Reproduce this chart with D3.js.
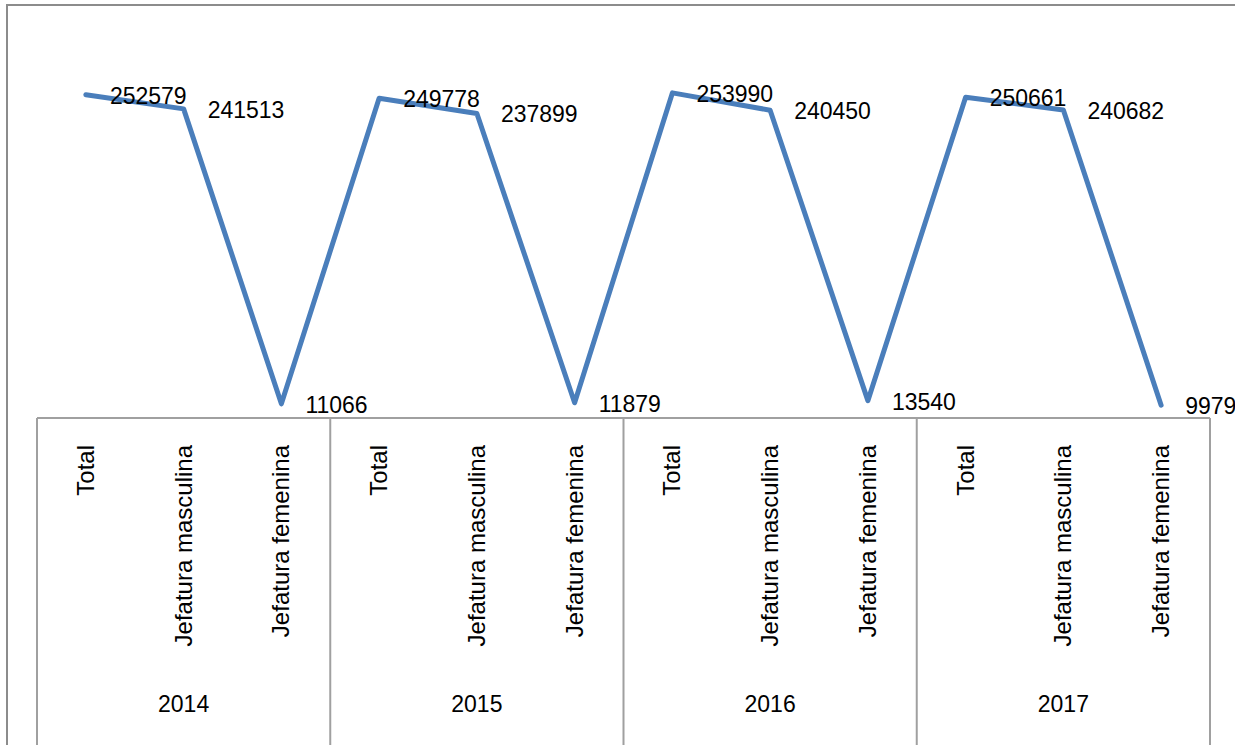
<!DOCTYPE html>
<html>
<head>
<meta charset="utf-8">
<script src="https://cdn.jsdelivr.net/npm/d3@7"></script>
<style>
  body { margin: 0; background: #fff; }
  text { font-family: "Liberation Sans", Arial, sans-serif; fill: #000; }
</style>
</head>
<body>
<div class="canvas"></div>
<script>
'use strict';

// Chart data
var years = ['2014', '2015', '2016', '2017'];
var categories = ['Total', 'Jefatura masculina', 'Jefatura femenina'];
var values = [
  252579, 241513, 11066,
  249778, 237899, 11879,
  253990, 240450, 13540,
  250661, 240682, 9979
];

var width = 1235;
var height = 745;

var svg = d3.select('.canvas').append('svg').attr('width', width).attr('height', height);

// Outer chart border (cropped on right and bottom)
svg.append('rect')
  .attr('x', 7).attr('y', 5)
  .attr('width', 1300).attr('height', 800)
  .attr('fill', 'none').attr('stroke', '#8c8c8c').attr('stroke-width', 2);

// Build flat rows from the arrays
var rows = [];
years.forEach(function (yr, i) {
  categories.forEach(function (cat, j) {
    rows.push({ key: yr + '|' + cat, year: yr, cat: cat, value: values[i * categories.length + j] });
  });
});

var plotLeft = 37, plotRight = 1210, axisY = 418;

var x = d3.scaleBand().domain(rows.map(function (d) { return d.key; }))
  .range([plotLeft, plotRight]).padding(0);

var y = d3.scaleLinear().domain([0, 300000]).range([axisY, 34]);

// Axis line
svg.append('line')
  .attr('x1', plotLeft).attr('x2', plotRight)
  .attr('y1', axisY).attr('y2', axisY)
  .attr('stroke', '#a0a0a0').attr('stroke-width', 2);

// Group separators
var groupEdges = years.map(function (yr) { return x(yr + '|' + categories[0]); });
groupEdges.push(plotRight);
svg.selectAll('.sep').data(groupEdges).enter().append('line')
  .attr('class', 'sep')
  .attr('x1', function (d) { return d; }).attr('x2', function (d) { return d; })
  .attr('y1', axisY).attr('y2', height)
  .attr('stroke', '#a0a0a0').attr('stroke-width', 2);

// Category labels (rotated)
svg.selectAll('.cat').data(rows).enter().append('text')
  .attr('class', 'cat')
  .attr('transform', function (d) {
    return 'translate(' + (x(d.key) + x.bandwidth() / 2 + 8) + ',' + 445 + ') rotate(-90)';
  })
  .attr('text-anchor', 'end')
  .attr('font-size', 24)
  .text(function (d) { return d.cat; });

// Year labels
svg.selectAll('.yr').data(years).enter().append('text')
  .attr('class', 'yr')
  .attr('x', function (yr) {
    return x(yr + '|' + categories[0]) + x.bandwidth() * categories.length / 2;
  })
  .attr('y', 712)
  .attr('text-anchor', 'middle')
  .attr('font-size', 23)
  .text(function (yr) { return yr; });

// Line
var line = d3.line()
  .x(function (d) { return x(d.key) + x.bandwidth() / 2; })
  .y(function (d) { return y(d.value); });

svg.append('path').datum(rows)
  .attr('d', line)
  .attr('fill', 'none')
  .attr('stroke', '#4a7ebb')
  .attr('stroke-width', 5)
  .attr('stroke-linejoin', 'round')
  .attr('stroke-linecap', 'round');

// Data labels to the right of each point
svg.selectAll('.lbl').data(rows).enter().append('text')
  .attr('class', 'lbl')
  .attr('x', function (d) { return x(d.key) + x.bandwidth() / 2 + 24; })
  .attr('y', function (d) { return y(d.value) + 9; })
  .attr('font-size', 23)
  .text(function (d) { return d.value; });
</script>
</body>
</html>
